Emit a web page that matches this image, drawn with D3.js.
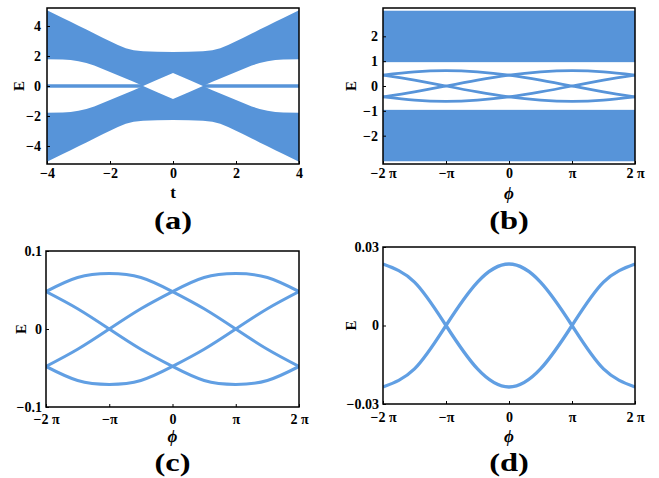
<!DOCTYPE html>
<html>
<head>
<meta charset="utf-8" />
<title>Energy spectra</title>
<script src="https://d3js.org/d3.v7.min.js"></script>
<style>
  body { margin: 0; background: #fff; }
  text { font-family: "Liberation Serif", "Times New Roman", serif; font-weight: bold; }
</style>
</head>
<body>
<svg id="canvas" width="659" height="478"></svg>
<script>
// ---- data ----
// (a) spectrum vs t : edges of the upper band (lower band is its mirror)
var tA = [-4, -3.5, -3.25, -3, -2.75, -2.5, -2.25, -2, -1.75, -1.5, -1.25, -0.95, -0.5, 0,
          0.5, 0.95, 1.25, 1.5, 1.75, 2, 2.25, 2.5, 2.75, 3, 3.25, 3.5, 4];
var topA = [5.05, 4.53, 4.28, 4.02, 3.76, 3.5, 3.24, 2.98, 2.73, 2.52, 2.38, 2.32, 2.28, 2.27,
            2.28, 2.32, 2.38, 2.52, 2.73, 2.98, 3.24, 3.5, 3.76, 4.02, 4.28, 4.53, 5.05];
var innerA = [1.78, 1.77, 1.74, 1.65, 1.53, 1.36, 1.15, 0.93, 0.72, 0.5, 0.28, 0, 0.42, 0.87,
              0.42, 0, 0.28, 0.5, 0.72, 0.93, 1.15, 1.36, 1.53, 1.65, 1.74, 1.77, 1.78];
var zeroA = [[-4, -0.95], [0.95, 4]]; // zero modes

// phi samples, in units of pi
var phi = [-2, -1.5, -1, -0.5, 0, 0.5, 1, 1.5, 2];

// (b) bulk bands and in-gap states
var bandsB = [[0.96, 3.03], [-3.03, -0.96]];
var b1 = [0.44, 0.57, 0.62, 0.57, 0.44, 0.24, 0, -0.24, -0.44];
var b2 = [-0.44, -0.24, 0, 0.24, 0.44, 0.57, 0.62, 0.57, 0.44];
var b3 = [-0.44, -0.57, -0.62, -0.57, -0.44, -0.24, 0, 0.24, 0.44];
var b4 = [0.44, 0.24, 0, -0.24, -0.44, -0.57, -0.62, -0.57, -0.44];

// (c)
var c1 = [0.048, 0.066, 0.071, 0.066, 0.048, 0.026, 0, -0.026, -0.048];
var c2 = [-0.048, -0.026, 0, 0.026, 0.048, 0.066, 0.071, 0.066, 0.048];
var c3 = [-0.048, -0.066, -0.071, -0.066, -0.048, -0.026, 0, 0.026, 0.048];
var c4 = [0.048, 0.026, 0, -0.026, -0.048, -0.066, -0.071, -0.066, -0.048];

// (d)
var d1 = [-0.0235, -0.0166, 0, 0.0166, 0.0235, 0.0166, 0, -0.0166, -0.0235];
var d2 = [0.0235, 0.0166, 0, -0.0166, -0.0235, -0.0166, 0, 0.0166, 0.0235];

var phiTicks = [-2, -1, 0, 1, 2];
var phiLabels = ["\u22122 \u03c0", "\u2212\u03c0", "0", "\u03c0", "2 \u03c0"];

var bandColor = "#5794d9";
var lineColor = "#619fe3";
var serif = '"Liberation Serif", "Times New Roman", serif';

var canvas = d3.select("#canvas");

function fmt(d) {
  return String(d).replace("-", "\u2212");
}

// builds one framed panel and returns its scales
function makePanel(p) {
  var x = d3.scaleLinear().domain(p.xDomain).range([p.left, p.right]);
  var y = d3.scaleLinear().domain(p.yDomain).range([p.bottom, p.top]);
  var g = canvas.append("g");

  g.append("clipPath").attr("id", "clip-" + p.name)
    .append("rect")
    .attr("x", p.left).attr("y", p.top)
    .attr("width", p.right - p.left).attr("height", p.bottom - p.top);

  var plot = g.append("g").attr("clip-path", "url(#clip-" + p.name + ")");

  return { x: x, y: y, g: g, plot: plot, p: p };
}

function finishPanel(P) {
  var p = P.p, g = P.g;

  var xAxis = d3.axisBottom(P.x)
    .tickValues(p.xTicks)
    .tickFormat(function (d, i) { return p.xLabels ? p.xLabels[i] : fmt(d); })
    .tickSizeInner(-3).tickSizeOuter(0).tickPadding(p.xPad);
  var xg = g.append("g").attr("transform", "translate(0," + p.bottom + ")").call(xAxis);

  var yAxis = d3.axisLeft(P.y)
    .tickValues(p.yTicks)
    .tickFormat(function (d, i) { return p.yLabels ? p.yLabels[i] : fmt(d); })
    .tickSizeInner(-3).tickSizeOuter(0).tickPadding(p.yPad);
  var yg = g.append("g").attr("transform", "translate(" + p.left + ",0)").call(yAxis);

  [xg, yg].forEach(function (a) {
    a.select(".domain").remove();
    a.attr("font-family", serif).attr("font-size", 14);
    a.selectAll("text").attr("fill", "#000")
      .style("font-family", serif).style("font-weight", "bold").style("font-size", "14px");
    a.selectAll("line").attr("stroke", "#000");
  });

  g.append("rect")
    .attr("x", p.left).attr("y", p.top)
    .attr("width", p.right - p.left).attr("height", p.bottom - p.top)
    .attr("fill", "none").attr("stroke", "#000").attr("stroke-width", 1.5);

  // axis titles
  g.append("text")
    .attr("transform", "translate(" + p.eX + "," + ((p.top + p.bottom) / 2) + ") rotate(-90)")
    .attr("text-anchor", "middle").attr("dy", "0.35em")
    .style("font-size", "15px").text("E");

  var cx = (p.left + p.right) / 2;
  g.append("text")
    .attr("x", cx).attr("y", p.xTitleY)
    .attr("text-anchor", "middle")
    .style("font-size", "17px")
    .style("font-style", p.xTitle === "t" ? "normal" : "italic")
    .text(p.xTitle);

  g.append("text")
    .attr("transform", "translate(" + cx + "," + p.tagY + ") scale(1.3,1)")
    .attr("text-anchor", "middle")
    .style("font-size", "25px")
    .text(p.tag);
}

// ---- (a) ----
var A = makePanel({
  name: "a", left: 47, right: 299, top: 8, bottom: 164,
  xDomain: [-4, 4], yDomain: [-5.2, 5.2],
  xTicks: [-4, -2, 0, 2, 4], yTicks: [-4, -2, 0, 2, 4], xPad: 4, yPad: 6,
  eX: 19, xTitle: "t", xTitleY: 198, tag: "(a)", tagY: 229
});

var upperA = d3.area()
  .x(function (d, i) { return A.x(tA[i]); })
  .y0(function (d, i) { return A.y(innerA[i]); })
  .y1(function (d, i) { return A.y(topA[i]); });
var lowerA = d3.area()
  .x(function (d, i) { return A.x(tA[i]); })
  .y0(function (d, i) { return A.y(-innerA[i]); })
  .y1(function (d, i) { return A.y(-topA[i]); });

A.plot.append("path").datum(tA).attr("d", upperA).attr("fill", bandColor);
A.plot.append("path").datum(tA).attr("d", lowerA).attr("fill", bandColor);
A.plot.selectAll("line.zero").data(zeroA).enter().append("line")
  .attr("x1", function (d) { return A.x(d[0]); })
  .attr("x2", function (d) { return A.x(d[1]); })
  .attr("y1", A.y(0)).attr("y2", A.y(0))
  .attr("stroke", bandColor).attr("stroke-width", 3.5);
finishPanel(A);

// ---- (b) ----
var B = makePanel({
  name: "b", left: 383, right: 635, top: 8, bottom: 164,
  xDomain: [-2, 2], yDomain: [-3.14, 3.14],
  xTicks: phiTicks, xLabels: phiLabels, yTicks: [-2, -1, 0, 1, 2], xPad: 4, yPad: 5,
  eX: 351, xTitle: "\u03d5", xTitleY: 199, tag: "(b)", tagY: 229
});

B.plot.selectAll("rect.band").data(bandsB).enter().append("rect")
  .attr("x", B.x(-2)).attr("width", B.x(2) - B.x(-2))
  .attr("y", function (d) { return B.y(d[1]); })
  .attr("height", function (d) { return B.y(d[0]) - B.y(d[1]); })
  .attr("fill", bandColor);

function drawCurves(P, series, width, color) {
  var line = d3.line()
    .x(function (d, i) { return P.x(phi[i]); })
    .y(function (d) { return P.y(d); })
    .curve(d3.curveNatural);
  P.plot.selectAll("path.curve").data(series).enter().append("path")
    .attr("class", "curve")
    .attr("d", line)
    .attr("fill", "none").attr("stroke", color).attr("stroke-width", width);
}
drawCurves(B, [b1, b2, b3, b4], 2.8, bandColor);
finishPanel(B);

// ---- (c) ----
var C = makePanel({
  name: "c", left: 46, right: 299, top: 251, bottom: 407,
  xDomain: [-2, 2], yDomain: [-0.1, 0.1],
  xTicks: phiTicks, xLabels: phiLabels,
  yTicks: [-0.1, 0, 0.1], xPad: 7, yPad: 4,
  eX: 21, xTitle: "\u03d5", xTitleY: 442, tag: "(c)", tagY: 471
});
drawCurves(C, [c1, c2, c3, c4], 3, lineColor);
finishPanel(C);

// ---- (d) ----
var D = makePanel({
  name: "d", left: 383, right: 635, top: 247, bottom: 404,
  xDomain: [-2, 2], yDomain: [-0.03, 0.03],
  xTicks: phiTicks, xLabels: phiLabels,
  yTicks: [-0.03, 0, 0.03], xPad: 8, yPad: 4,
  eX: 351, xTitle: "\u03d5", xTitleY: 442, tag: "(d)", tagY: 471
});
drawCurves(D, [d1, d2], 3.3, lineColor);
finishPanel(D);
</script>
</body>
</html>
